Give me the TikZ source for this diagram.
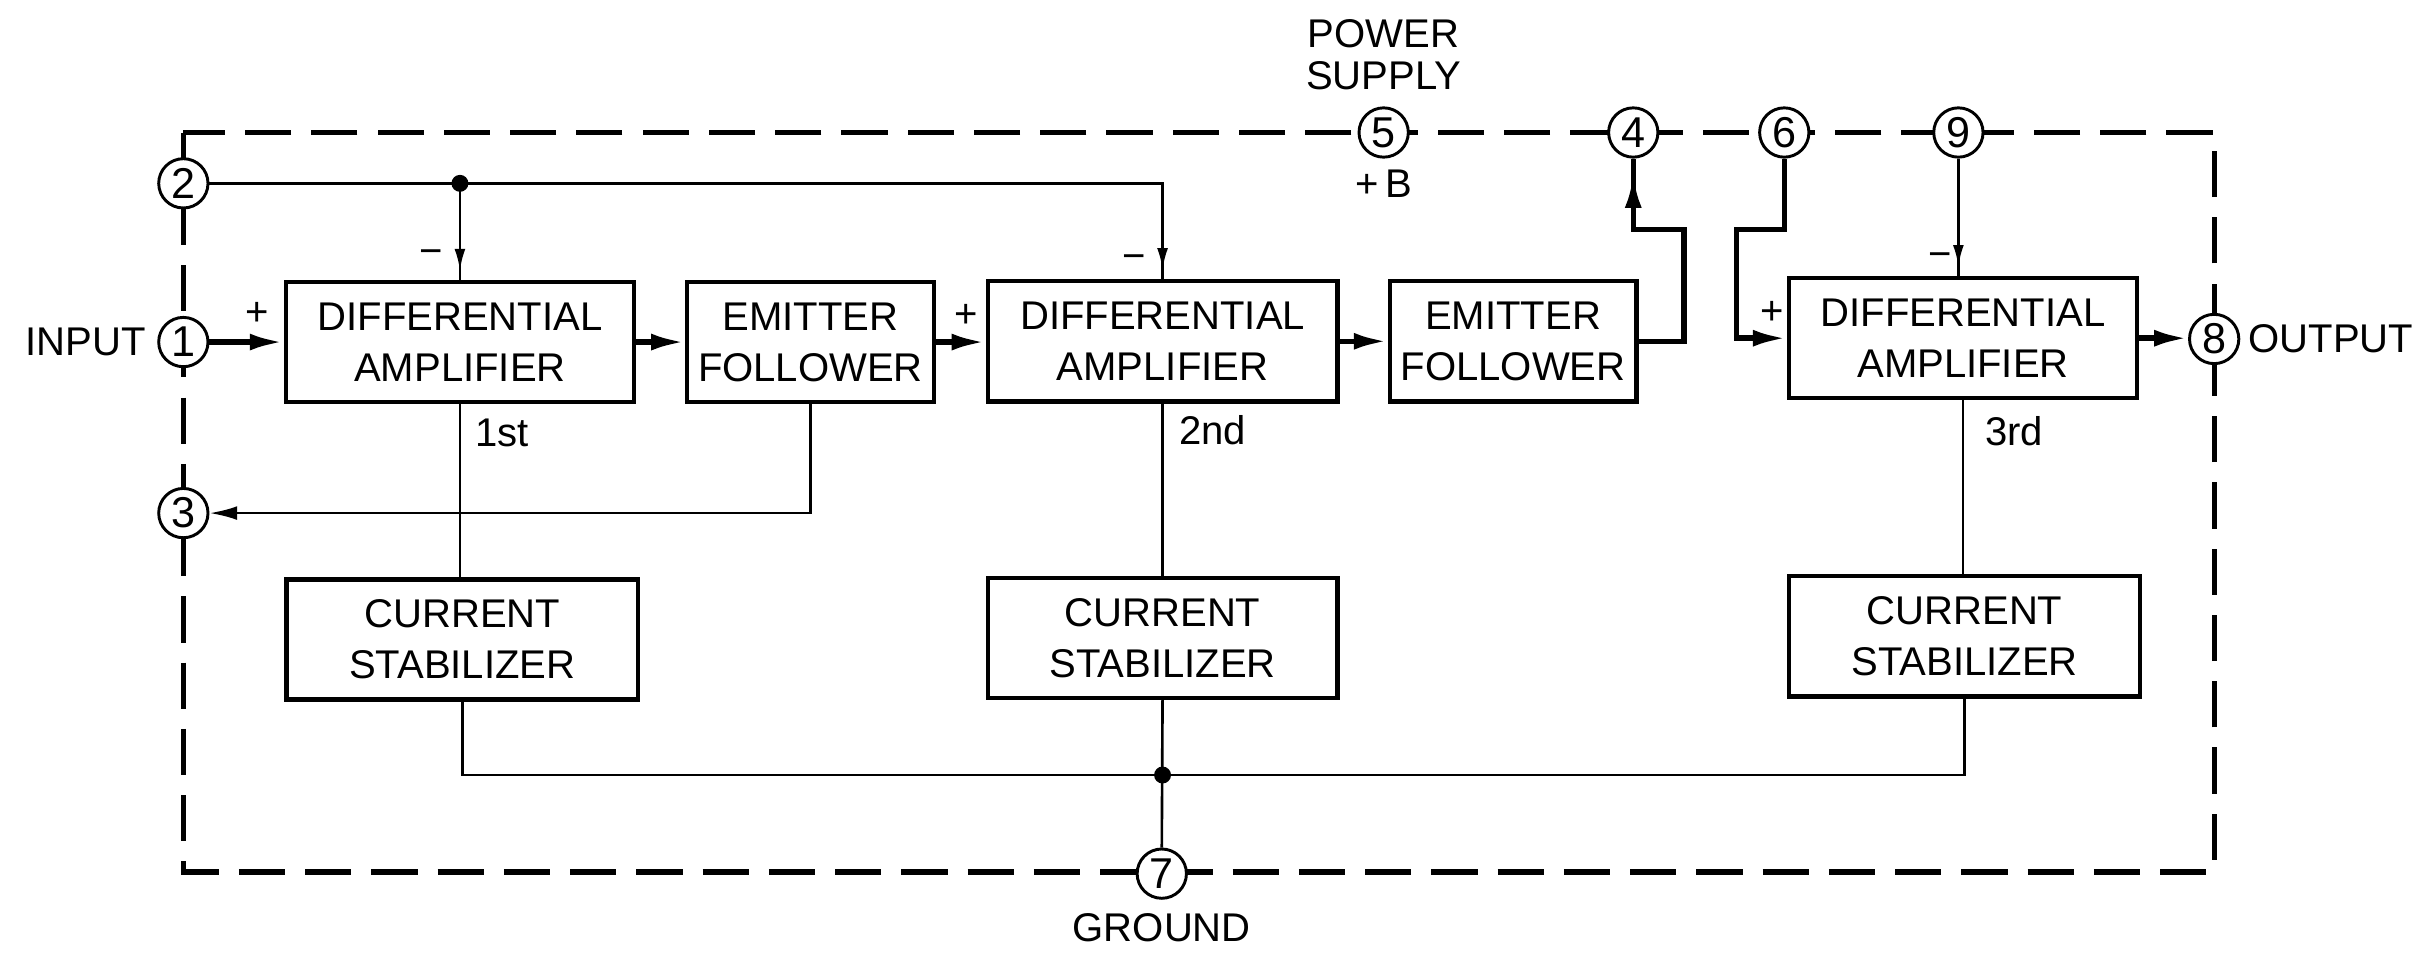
\documentclass[tikz,border=0pt]{standalone}
\usepackage{fontspec}
\setmainfont{Liberation Sans}
\usetikzlibrary{arrows.meta}
\begin{document}
\begin{tikzpicture}[x=0.5pt,y=-0.5pt,
  every node/.style={font=\fontsize{13}{16.5}\selectfont},
  blk/.style={draw, line width=1.4pt, align=center, inner sep=0pt, minimum height=39pt},
  pin/.style={draw, circle, line width=0.95pt, fill=white, minimum size=16pt, inner sep=0pt, font=\fontsize{14}{16}\selectfont},
  sig/.style={line width=1.8pt},
  wire/.style={line width=0.85pt},
  frame/.style={line width=1.7pt, dash pattern=on 15pt off 6.5pt},
  bigtip/.style={-{Latex[length=11pt,width=5.5pt]}},
  midtip/.style={-{Latex[length=9pt,width=4.5pt]}},
  smalltip/.style={-{Latex[length=7pt,width=3.5pt]}},
  dot/.style={circle, fill, inner sep=0pt, minimum size=5.5pt},
  lbl/.style={inner sep=0pt}
]
\useasboundingbox (0,0) rectangle (1568,620);

% frame
\draw[frame] (119,86) rectangle (1437,566);

% pins
\node[pin] (p2) at (119,119) {2};
\node[pin] (p1) at (119,222) {1};
\node[pin] (p3) at (119,333) {3};
\node[pin] (p5) at (898,86) {5};
\node[pin] (p4) at (1060,86) {4};
\node[pin] (p6) at (1158,86) {6};
\node[pin] (p9) at (1271,86) {9};
\node[pin] (p8) at (1437,220) {8};
\node[pin] (p7) at (754,567) {7};

% blocks
\node[blk, minimum width=113pt] (DA1) at (298.5,222) {DIFFERENTIAL\\AMPLIFIER};
\node[blk, minimum width=80pt] (EF1) at (526,222) {EMITTER\\FOLLOWER};
\node[blk, minimum width=113.5pt] (DA2) at (754.5,221.5) {DIFFERENTIAL\\AMPLIFIER};
\node[blk, minimum width=80pt] (EF2) at (982,221.5) {EMITTER\\FOLLOWER};
\node[blk, minimum width=113pt] (DA3) at (1274,219.5) {DIFFERENTIAL\\AMPLIFIER};
\node[blk, minimum width=114pt] (CS1) at (300,415) {CURRENT\\STABILIZER};
\node[blk, minimum width=113.5pt] (CS2) at (754.5,414) {CURRENT\\STABILIZER};
\node[blk, minimum width=114pt] (CS3) at (1275,413) {CURRENT\\STABILIZER};

% signal path
\draw[sig,bigtip] (p1.east) -- (p1.east -| DA1.west);
\draw[sig,bigtip] (DA1.east) -- (DA1.east -| EF1.west);
\draw[sig,bigtip] (EF1.east) -- (EF1.east -| DA2.west);
\draw[sig,bigtip] (DA2.east) -- (DA2.east -| EF2.west);
\coordinate (k4) at (1093,149);
\draw[sig] (EF2.east) -| (k4) -| (p4.south);
\draw[sig,bigtip] (p4.south |- k4) -- ([yshift=-5pt]p4.south);
\coordinate (k6) at (1127,149);
\draw[sig,bigtip] (p6.south) |- (k6) |- (DA3.west);
\draw[sig,bigtip] (DA3.east) -- (DA3.east -| p8.west);

% pin 2 bias line
\coordinate (j1) at (DA1.north |- p2);
\draw[wire] (p2.east) -- (p2.east -| DA2.north) -- (DA2.north);
\draw[wire] (j1) -- (DA1.north);
\draw[wire,smalltip] (j1) -- ([yshift=3pt]DA1.north);
\draw[wire,smalltip] (p2.east -| DA2.north) -- ([yshift=3pt]DA2.north);
\node[dot] (d1) at (j1) {};

% pin 9
\draw[wire] (p9.south) -- (p9.south |- DA3.north);
\draw[wire,smalltip] (p9.south) -- ([yshift=3pt]p9.south |- DA3.north);

% emitter follower 1 to pin 3
\coordinate (k3) at (EF1.south |- p3);
\draw[wire,midtip] (EF1.south) -- (k3) -- (p3.east);

% amplifiers to stabilizers
\draw[wire] (DA1.south) -- (DA1.south |- CS1.north);
\draw[wire] (DA2.south) -- (CS2.north);
\draw[wire] (DA3.south) -- (DA3.south |- CS3.north);

% ground bus
\coordinate (j2) at (754.5,503);
\draw[wire] (CS1.south) -- (CS1.south |- j2) -- (CS3.south |- j2) -- (CS3.south);
\draw[wire] (CS2.south) -- (p7.north);
\node[dot] (d2) at (j2) {};

% labels
\node[lbl] (m1) at (280,167) {−};
\node[lbl] (pl1) at (167,204) {+};
\node[lbl] (m2) at (736,170) {−};
\node[lbl] (pl2) at (627,205) {+};
\node[lbl] (m3) at (1259,169) {−};
\node[lbl] (pl3) at (1150,203) {+};
\node[lbl, anchor=west] (n1) at (308,281) {1st};
\node[lbl, anchor=west] (n2) at (765,279) {2nd};
\node[lbl, anchor=west] (n3) at (1288,280) {3rd};
\node[lbl, anchor=east] (tin) at (95,222) {INPUT};
\node[lbl, anchor=west] (tout) at (1459,220) {OUTPUT};
\node[lbl] (tpow) at (898,22) {POWER};
\node[lbl] (tsup) at (898,49) {SUPPLY};
\node[lbl] (tb) at (898,119) {+\,B};
\node[lbl] (tgnd) at (754,602) {GROUND};
\end{tikzpicture}
\end{document}
